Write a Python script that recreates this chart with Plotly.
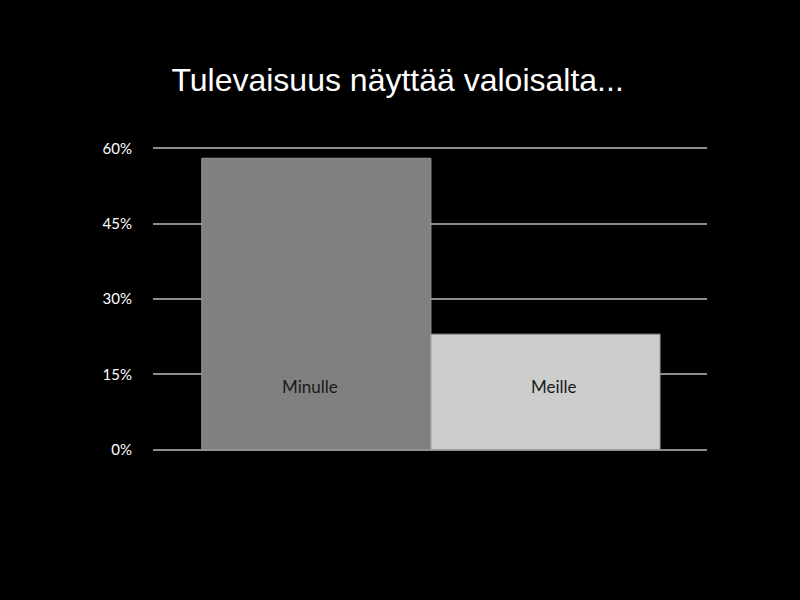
import plotly.graph_objects as go

categories = ["Minulle", "Meille"]
values = [58, 23]
colors = ["#808080", "#cdcdcd"]
label_shift = [-6, 9]
tick_vals = [0, 15, 30, 45, 60]
tick_text = ["0%", "15%", "30%", "45%", "60%"]
title = "Tulevaisuus näyttää valoisalta..."

fig = go.Figure()
fig.add_trace(go.Bar(
    x=categories, y=values, width=1,
    marker=dict(color=colors, line=dict(color="#9a9a9a", width=1)),
    hoverinfo="skip",
))
for c, s in zip(categories, label_shift):
    fig.add_annotation(x=c, y=12.5, text=c, showarrow=False, xref="x", yref="y", xshift=s,
                       font=dict(family="Lato, Open Sans, sans-serif", size=17, color="#1a1a1a"))

fig.update_layout(
    width=800, height=600,
    paper_bgcolor="black", plot_bgcolor="black",
    margin=dict(l=153, r=93, t=147, b=149),
    showlegend=False,
    title=dict(text=title, x=0.497, xanchor="center", y=0.867, yanchor="middle",
               font=dict(family="Liberation Sans, Arial, sans-serif", size=32, color="white")),
    xaxis=dict(type="category", range=[-0.713, 1.705], showticklabels=False,
               showgrid=False, zeroline=False, showline=False, fixedrange=True),
    yaxis=dict(range=[-0.25, 60.25], tickvals=tick_vals, ticktext=tick_text,
               showgrid=True, gridcolor="#8c8c8c", gridwidth=2, zeroline=False,
               ticklabelstandoff=20, fixedrange=True,
               tickfont=dict(family="Lato, Open Sans, sans-serif", size=15, color="white")),
)
fig.write_html("out.html", config={"displayModeBar": False},
               post_script="document.body.style.margin='0';document.body.style.background='black';")
